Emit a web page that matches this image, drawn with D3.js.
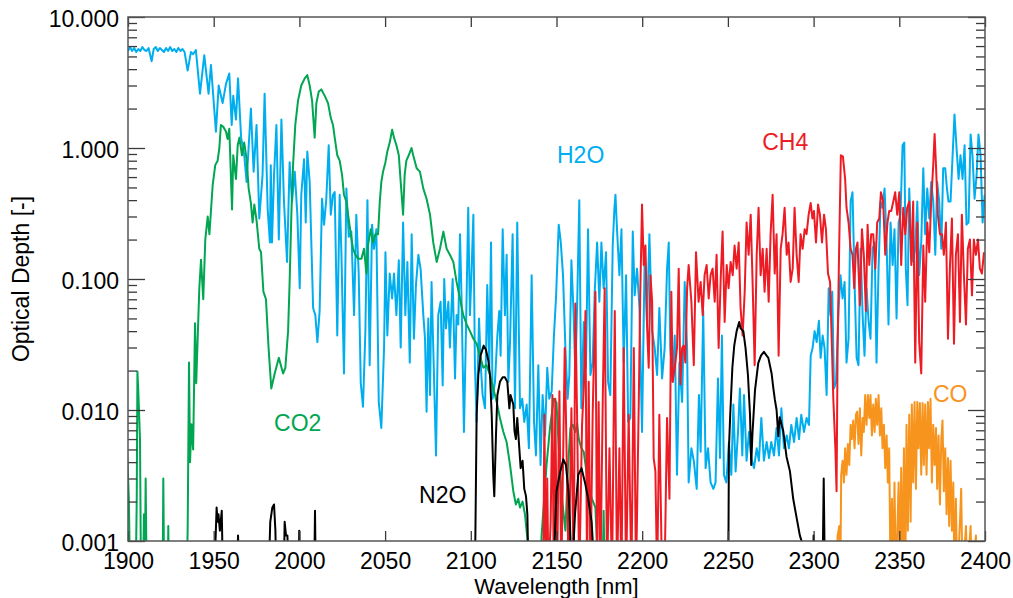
<!DOCTYPE html>
<html><head><meta charset="utf-8">
<script src="https://cdn.jsdelivr.net/npm/d3@7"></script>
<style>
body{margin:0;background:#fff}
svg{display:block}
text{font-family:"Liberation Sans",Arial,Helvetica,sans-serif}
</style>
</head><body>
<svg id="chart" width="1013" height="598"></svg>
<script>
// ---- data: [wavelength nm, optical depth] ----
const h2o = [[1900,5.5],[1901.2,5.9],[1902.4,5.5],[1903.6,5.8],[1904.8,5.4],[1906,5.7],[1907.2,5.5],[1908.4,5.9],[1909.6,5.6],[1910.8,5.5],[1912,5.8],[1913.8,4.6],[1915,5.7],[1916.2,5.9],[1917.4,5.5],[1918.6,5.8],[1919.8,5.6],[1921,5.4],[1922.2,5.8],[1923.4,5.5],[1924.6,5.9],[1925.8,5.5],[1927,5.7],[1928.2,5.4],[1929.4,5.8],[1930.6,5.5],[1931.8,5.7],[1933,5.4],[1934.8,3.9],[1936.7,5.4],[1938,5.2],[1939.6,5.6],[1942,2.6],[1944.5,5.1],[1947,2.6],[1948.4,4.3],[1951.3,1.33],[1952.9,3.0],[1955.2,2.2],[1957.2,3.1],[1959.1,3.7],[1960.5,1.5],[1961.4,2.5],[1963,1.65],[1964.2,3.4],[1966,1.2],[1967.8,0.88],[1969.2,0.55],[1971.7,2.0],[1973.3,0.66],[1975,1.5],[1976.6,0.29],[1978.5,0.62],[1979.7,2.6],[1981.5,0.34],[1982.8,0.19],[1983.3,0.74],[1984,0.19],[1985.2,0.62],[1986.6,1.5],[1988,0.2],[1989.5,1.65],[1991,0.39],[1992.8,0.135],[1994.3,0.78],[1995.7,0.39],[1997.3,0.66],[1998.8,0.31],[2000.2,0.085],[2001.1,0.44],[2002.7,0.82],[2003.7,0.27],[2004.6,0.94],[2006,0.55],[2008,0.06],[2009.3,0.053],[2010.5,0.033],[2011.8,0.057],[2013.2,0.41],[2014.4,0.26],[2015.7,0.41],[2017.1,1.05],[2018.3,0.31],[2019.6,0.44],[2020.6,0.46],[2022.1,0.037],[2023.5,0.44],[2024.5,0.16],[2026,0.019],[2027.4,0.49],[2028.8,0.21],[2030.3,0.23],[2031.9,0.053],[2033.2,0.31],[2034.6,0.11],[2035.8,0.016],[2037.1,0.0106],[2038.5,0.04],[2039.7,0.4],[2041,0.022],[2042.4,0.26],[2043.5,0.17],[2044.9,0.24],[2046.3,0.0115],[2047.8,0.0073],[2049.4,0.03],[2050.2,0.16],[2051.3,0.037],[2052.7,0.11],[2054.1,0.071],[2055.2,0.11],[2056.6,0.053],[2058,0.139],[2059.1,0.03],[2060.5,0.27],[2061.8,0.053],[2063,0.135],[2064.4,0.023],[2065.5,0.22],[2066.8,0.035],[2068,0.09],[2069.4,0.153],[2070.7,0.12],[2072.3,0.053],[2073.3,0.035],[2074.2,0.0097],[2075.2,0.05],[2076.2,0.013],[2077.1,0.095],[2078.1,0.03],[2079.7,0.0045],[2081,0.053],[2082.4,0.067],[2083.6,0.0154],[2084.5,0.1],[2085.5,0.042],[2086.9,0.067],[2087.8,0.03],[2089.4,0.1],[2090.8,0.0174],[2091.7,0.053],[2092.7,0.045],[2093.7,0.22],[2094.6,0.071],[2096,0.0068],[2097.2,0.042],[2098.5,0.35],[2099.5,0.053],[2100.5,0.12],[2101.5,0.31],[2102.4,0.022],[2103.4,0.0081],[2104.8,0.05],[2105.9,0.021],[2106.9,0.013],[2108.3,0.0103],[2109.6,0.09],[2110.8,0.021],[2111.8,0.19],[2112.7,0.0122],[2114.1,0.0164],[2115.5,0.037],[2116.6,0.057],[2117.4,0.026],[2118.6,0.24],[2119.9,0.053],[2120.9,0.153],[2121.9,0.0164],[2122.9,0.033],[2124.4,0.22],[2125.8,0.0103],[2127.1,0.27],[2128.7,0.0103],[2130,0.0122],[2131.2,0.0081],[2132.6,0.011],[2133.9,0.0051],[2135.5,0.107],[2136.9,0.0081],[2138,0.0045],[2139.4,0.022],[2140.7,0.0038],[2141.9,0.013],[2143.3,0.0064],[2144.6,0.021],[2145.8,0.0122],[2147.2,0.0139],[2148.5,0.037],[2149.7,0.071],[2151.3,0.26],[2152.5,0.19],[2153.8,0.107],[2155.2,0.0297],[2156.5,0.0122],[2157.5,0.0185],[2158.7,0.139],[2160,0.053],[2161,0.0185],[2162,0.06],[2163.3,0.4],[2164.5,0.0103],[2165.9,0.047],[2167.2,0.021],[2168.4,0.24],[2169.8,0.0185],[2171.1,0.023],[2172.3,0.08],[2173.7,0.19],[2175,0.067],[2176.2,0.19],[2177.5,0.085],[2178.9,0.16],[2180.1,0.0164],[2181.4,0.013],[2182.8,0.18],[2183.8,0.35],[2184.4,0.44],[2185.3,0.24],[2186.7,0.107],[2187.9,0.24],[2189.2,0.023],[2190.6,0.107],[2191.8,0.0081],[2193.1,0.0087],[2194.5,0.23],[2195.6,0.075],[2197,0.12],[2198.4,0.06],[2199.9,0.0068],[2201.5,0.17],[2202.8,0.047],[2204.2,0.22],[2205.8,0.04],[2207.3,0.0297],[2208.7,0.0185],[2210,0.06],[2211.6,0.0174],[2213.1,0.0297],[2214.5,0.12],[2215.5,0.19],[2216.4,0.0297],[2217.8,0.0164],[2219,0.037],[2220.3,0.0032],[2221.7,0.023],[2223.3,0.0115],[2224.8,0.095],[2226.2,0.0297],[2227.1,0.0028],[2228.7,0.0051],[2230.1,0.0041],[2231.8,0.0025],[2233.1,0.013],[2234.1,0.0048],[2235.6,0.057],[2237,0.0036],[2238.4,0.0051],[2239.9,0.0028],[2241.5,0.0025],[2242.8,0.0028],[2244.2,0.0174],[2245.4,0.0043],[2246.5,0.037],[2247.7,0.0032],[2249.1,0.0028],[2250.6,0.0057],[2252,0.0032],[2253.2,0.011],[2254.5,0.0034],[2255.9,0.0068],[2257,0.0146],[2258.4,0.0045],[2259.4,0.013],[2260.9,0.0041],[2262.3,0.0068],[2263.7,0.0043],[2265.2,0.0036],[2266.8,0.0051],[2268.1,0.0041],[2269.5,0.0087],[2271,0.0041],[2272.6,0.0057],[2274,0.0043],[2275.3,0.0057],[2276.9,0.0045],[2278.4,0.0073],[2279.8,0.0045],[2281.2,0.0103],[2282.7,0.0051],[2284.3,0.0064],[2285.6,0.0051],[2287,0.0077],[2288.6,0.0057],[2290.1,0.0087],[2291.5,0.006],[2292.8,0.0092],[2294.4,0.0068],[2295.9,0.0087],[2297.3,0.0077],[2298.3,0.026],[2299.4,0.0297],[2300.6,0.04],[2301.8,0.033],[2303.1,0.048],[2304.1,0.025],[2305.3,0.037],[2306.4,0.0297],[2307.6,0.013],[2308.8,0.085],[2309.9,0.053],[2310.9,0.08],[2311.9,0.0146],[2313.1,0.0164],[2314.6,0.06],[2315.7,0.107],[2316.9,0.071],[2318.1,0.095],[2319.2,0.023],[2320.4,0.035],[2321.6,0.39],[2322.7,0.46],[2324.1,0.075],[2325.1,0.025],[2326.2,0.022],[2327.4,0.17],[2328.6,0.053],[2329.7,0.026],[2330.9,0.085],[2332.1,0.047],[2333.2,0.035],[2334.4,0.17],[2335.6,0.19],[2336.7,0.023],[2337.9,0.12],[2339.1,0.39],[2340.2,0.35],[2341.4,0.49],[2342.6,0.19],[2343.7,0.045],[2344.9,0.27],[2346.1,0.128],[2347.2,0.24],[2348.4,0.05],[2349.6,0.27],[2350.7,0.31],[2351.9,1.05],[2352.9,1.1],[2353.8,0.12],[2354.8,0.063],[2355.8,0.49],[2357,0.17],[2358.1,0.135],[2359.3,0.17],[2360.5,0.39],[2361.6,0.107],[2362.8,0.19],[2364,0.7],[2365.1,0.22],[2366.3,0.49],[2367.5,0.29],[2368.6,0.55],[2369.8,0.39],[2371,0.153],[2372.1,0.55],[2373.3,0.39],[2374.5,0.17],[2375.6,0.7],[2376.8,0.7],[2377.8,0.49],[2378.7,0.39],[2379.9,0.39],[2381.1,0.88],[2382.2,1.8],[2383.4,1.0],[2384.6,0.58],[2385.7,0.88],[2386.9,0.58],[2388.1,1.05],[2389.2,0.26],[2390.4,0.27],[2391.6,1.27],[2392.7,0.88],[2393.9,0.41],[2395.1,0.62],[2396.2,1.27],[2397.4,0.88],[2398.6,0.27],[2399.8,0.44]];

const co2 = [[1899.5,0.0047],[1900.5,0.0021],[1901.2,0.0005],[1904.5,0.0005],[1905.1,0.0021],[1905.5,0.0197],[1906,0.014],[1907,0.006],[1907.6,0.0005],[1908.8,0.0005],[1909.3,0.0016],[1909.8,0.0005],[1910.3,0.003],[1910.9,0.0005],[1920.2,0.0005],[1920.6,0.003],[1921.1,0.0005],[1923.2,0.0005],[1923.5,0.0013],[1923.9,0.0005],[1934.2,0.0005],[1934.8,0.0012],[1935.6,0.023],[1936.2,0.004],[1937,0.0078],[1938,0.005],[1939.1,0.046],[1939.8,0.016],[1941.6,0.085],[1942.6,0.14],[1943.9,0.07],[1945.1,0.2],[1946.5,0.3],[1947.5,0.22],[1949.4,0.52],[1950.9,0.74],[1952.3,0.8],[1953.3,1.0],[1954.2,1.5],[1955.6,1.45],[1957.2,1.33],[1958.1,1.17],[1959.1,1.4],[1960.7,0.34],[1961.4,0.88],[1963,0.58],[1964,1.05],[1965,1.2],[1966.5,0.88],[1967.8,1.1],[1969.2,0.82],[1970.4,0.49],[1971.7,0.38],[1972.7,0.27],[1973.7,0.37],[1975,0.28],[1976.6,0.17],[1977.6,0.16],[1979,0.08],[1980.5,0.07],[1982,0.03],[1983.6,0.0146],[1985.6,0.019],[1988,0.025],[1990.5,0.019],[1991.8,0.021],[1993.4,0.04],[1994.3,0.095],[1995.3,0.31],[1996.3,0.74],[1997.6,1.5],[1999.2,2.3],[2001.1,3.0],[2003.1,3.4],[2004.6,3.6],[2006,3.0],[2007.4,2.3],[2008.9,1.2],[2009.9,2.2],[2011.3,2.7],[2012.8,2.8],[2014.8,2.5],[2016.7,2.2],[2018.3,1.7],[2019.6,1.5],[2020.6,1.2],[2022.1,0.88],[2023.5,0.8],[2024.9,0.62],[2026,0.44],[2027.4,0.39],[2028.4,0.31],[2030,0.22],[2031.3,0.17],[2032.7,0.153],[2034.2,0.143],[2036.2,0.143],[2037.7,0.17],[2039.1,0.11],[2040,0.18],[2041.6,0.24],[2043,0.19],[2044.3,0.22],[2045.9,0.22],[2046.9,0.39],[2047.8,0.55],[2048.8,0.66],[2050.2,0.78],[2051.3,0.94],[2052.7,1.1],[2054.1,1.38],[2055.2,1.2],[2056.6,1.05],[2058,0.88],[2059.1,0.55],[2060.5,0.31],[2061.4,0.62],[2062.4,0.8],[2063.8,0.88],[2065.4,1.0],[2066.4,0.88],[2068.4,0.7],[2070.3,0.66],[2072.3,0.49],[2074.2,0.41],[2076.2,0.31],[2078.1,0.19],[2080.1,0.135],[2082,0.17],[2084,0.23],[2085.9,0.17],[2087.8,0.153],[2089.8,0.135],[2091.7,0.095],[2093.7,0.071],[2095.6,0.053],[2097.6,0.045],[2099.5,0.04],[2101.5,0.035],[2103.4,0.032],[2105.3,0.026],[2107.3,0.021],[2109.2,0.022],[2111.2,0.0185],[2113.1,0.0146],[2115.1,0.0115],[2117,0.0087],[2119,0.0068],[2120.9,0.0057],[2122.9,0.0038],[2124.8,0.0024],[2126.3,0.0019],[2127.7,0.0021],[2128.7,0.0018],[2130.2,0.002],[2131.6,0.0016],[2133.5,0.0009],[2134.5,0.0005],[2140.5,0.0005],[2141.3,0.0011],[2144.2,0.0038],[2146.2,0.0073],[2148.4,0.0122],[2150,0.0114],[2151.3,0.0051],[2153.2,0.0021],[2155.2,0.0012],[2156.7,0.0036],[2158.1,0.0073],[2159.5,0.0077],[2161,0.0068],[2162,0.0079],[2163,0.006],[2164.5,0.0051],[2165.9,0.0048],[2167.2,0.0036],[2168.8,0.0025],[2170.7,0.0021],[2172.7,0.0018],[2174.5,0.0005],[2176.8,0.0005],[2177.5,0.0017],[2178.2,0.0005]];

const ch4 = [[2142.3,0.0005],[2142.9,0.0092],[2143.9,0.0005],[2144.6,0.003],[2145.3,0.0005],[2146.6,0.0014],[2147.6,0.013],[2148.4,0.0005],[2149.3,0.0122],[2150.3,0.0005],[2151.7,0.0139],[2152.8,0.0005],[2154.8,0.0297],[2156.2,0.0028],[2157.1,0.0005],[2158.7,0.0103],[2160,0.0005],[2161,0.065],[2162,0.0092],[2163.3,0.0005],[2164.9,0.0077],[2165.9,0.0146],[2166.9,0.057],[2167.8,0.0005],[2168.8,0.0164],[2169.8,0.0005],[2171.1,0.0092],[2172.7,0.08],[2173.7,0.0005],[2174.6,0.0115],[2175.6,0.0005],[2177,0.0122],[2178.1,0.085],[2179.5,0.0005],[2180.9,0.0051],[2182.4,0.0005],[2184,0.057],[2185.3,0.0005],[2186.7,0.0051],[2187.9,0.0005],[2189.2,0.0297],[2190.6,0.0005],[2192.1,0.0092],[2193.7,0.0005],[2195.1,0.0297],[2196.4,0.0005],[2198,0.0115],[2198.9,0.08],[2199.9,0.37],[2200.9,0.128],[2201.9,0.18],[2202.8,0.045],[2203.8,0.021],[2204.8,0.107],[2205.8,0.067],[2206.7,0.0043],[2207.7,0.0034],[2208.7,0.0005],[2210,0.0092],[2211.6,0.0005],[2213,0.0005],[2214.5,0.0087],[2215.9,0.0021],[2217,0.08],[2217.8,0.0164],[2219,0.021],[2220.3,0.0297],[2221.3,0.12],[2222.3,0.0157],[2223.3,0.0297],[2224.2,0.031],[2225.2,0.023],[2226.2,0.085],[2227.1,0.128],[2228.7,0.067],[2230.1,0.022],[2231.4,0.16],[2232.9,0.067],[2234.1,0.095],[2235.3,0.053],[2236.4,0.107],[2237.6,0.128],[2238.8,0.071],[2239.9,0.107],[2241.1,0.12],[2242.3,0.067],[2243.4,0.153],[2244.6,0.0297],[2245.8,0.1],[2246.9,0.23],[2248.1,0.047],[2249.3,0.128],[2250.4,0.085],[2251.6,0.135],[2252.8,0.107],[2253.9,0.18],[2255.1,0.12],[2256.3,0.19],[2257.4,0.06],[2258.6,0.037],[2259.8,0.08],[2260.9,0.27],[2262.1,0.153],[2263.3,0.31],[2264.4,0.095],[2265.6,0.022],[2266.8,0.153],[2267.9,0.35],[2269.1,0.107],[2270.3,0.17],[2271.4,0.08],[2272.6,0.17],[2273.8,0.067],[2274.9,0.22],[2276.1,0.44],[2277.3,0.11],[2278.4,0.22],[2279.6,0.026],[2280.8,0.17],[2281.9,0.22],[2283.1,0.35],[2284.3,0.153],[2285.4,0.19],[2286.6,0.095],[2287.8,0.12],[2288.9,0.35],[2290.1,0.153],[2291.3,0.095],[2292.4,0.22],[2293.6,0.17],[2294.8,0.24],[2295.9,0.22],[2297.1,0.31],[2298.3,0.38],[2299.3,0.29],[2300.2,0.33],[2301.4,0.19],[2302.6,0.37],[2303.7,0.31],[2304.9,0.19],[2306.1,0.31],[2307.2,0.24],[2308.4,0.11],[2309.6,0.095],[2310.7,0.0297],[2311.5,0.0122],[2312.7,0.0051],[2313.4,0.0024],[2314,0.0297],[2314.9,0.17],[2315.9,0.88],[2317.1,0.86],[2318.4,0.58],[2319.2,0.35],[2320.4,0.27],[2321.6,0.17],[2322.7,0.153],[2323.7,0.085],[2324.7,0.17],[2325.6,0.19],[2327,0.063],[2328.2,0.24],[2329.3,0.153],[2330.5,0.057],[2331.5,0.26],[2332.5,0.128],[2333.6,0.22],[2334.8,0.22],[2336,0.12],[2337.1,0.27],[2338.3,0.29],[2339.3,0.46],[2340.6,0.39],[2341.8,0.153],[2343.1,0.27],[2344.1,0.33],[2345.3,0.33],[2346.5,0.39],[2347.6,0.46],[2348.8,0.31],[2350,0.46],[2351.1,0.128],[2352.3,0.35],[2353.5,0.22],[2354.6,0.35],[2355.8,0.39],[2357,0.128],[2358.1,0.39],[2359.3,0.023],[2360.5,0.27],[2361.6,0.033],[2362.8,0.019],[2364,0.18],[2365.1,0.067],[2366.3,0.27],[2367.5,0.16],[2368.6,0.39],[2369.8,0.74],[2370.6,1.28],[2371.4,0.74],[2372.5,0.31],[2373.7,0.22],[2374.9,0.22],[2376,0.153],[2377.2,0.27],[2378.4,0.035],[2379.5,0.12],[2380.7,0.29],[2381.9,0.032],[2383,0.153],[2384.2,0.22],[2385.4,0.047],[2386.5,0.31],[2387.7,0.107],[2388.9,0.045],[2390,0.17],[2391.2,0.2],[2392.4,0.075],[2393.5,0.2],[2394.7,0.153],[2395.9,0.2],[2397,0.12],[2398.2,0.11],[2399.4,0.16]];

const n2o = [[1950.3,0.0005],[1951.7,0.0018],[1952.3,0.0014],[1952.8,0.0016],[1953.6,0.0012],[1954.7,0.0017],[1955.4,0.0005],[1963.5,0.0005],[1964.2,0.0011],[1965,0.0005],[1982,0.0005],[1983,0.0014],[1984.2,0.0018],[1985.2,0.0019],[1986,0.0012],[1986.6,0.0005],[1990.8,0.0005],[1991.4,0.0014],[1992.2,0.0011],[1993,0.0011],[1994,0.0005],[1999.6,0.0005],[1999.9,0.0012],[2000.2,0.0005],[2008.6,0.0005],[2009.1,0.0017],[2009.6,0.0005],[2102.4,0.0005],[2103.4,0.0092],[2104.4,0.0185],[2105.7,0.026],[2107.5,0.031],[2108.8,0.029],[2110.2,0.024],[2111.2,0.0185],[2112.2,0.0092],[2113.1,0.0032],[2113.7,0.0022],[2114.7,0.0065],[2115.5,0.013],[2117,0.0164],[2118.6,0.0178],[2119.9,0.0178],[2121.3,0.0164],[2122.5,0.0103],[2123.2,0.013],[2124.8,0.011],[2125.5,0.0069],[2126.3,0.006],[2127.1,0.0087],[2128.3,0.0051],[2129.1,0.0036],[2130.2,0.0041],[2131.2,0.0025],[2132.2,0.0022],[2133,0.0016],[2133.7,0.0005],[2148.1,0.0005],[2150,0.0024],[2152,0.0033],[2154,0.0042],[2155.5,0.0038],[2157,0.0024],[2157.9,0.0013],[2158.9,0.0005],[2160.8,0.0016],[2162.7,0.0032],[2164.6,0.0036],[2166.6,0.0028],[2168.5,0.0021],[2170.5,0.0014],[2172.4,0.0005],[2250.2,0.0005],[2250.6,0.0051],[2251.4,0.0095],[2252.6,0.021],[2253.7,0.031],[2255.1,0.04],[2256.6,0.047],[2257.4,0.042],[2259,0.04],[2260.3,0.0297],[2261.7,0.0185],[2262.9,0.0092],[2263.6,0.0038],[2264.3,0.0065],[2265.8,0.0141],[2267.7,0.0228],[2269.3,0.026],[2271,0.0278],[2272.6,0.026],[2273.6,0.025],[2275.5,0.019],[2276.5,0.0147],[2277.4,0.012],[2278.4,0.01],[2279.4,0.0063],[2280.2,0.0088],[2282.3,0.0069],[2284.2,0.0044],[2286.2,0.0034],[2288.1,0.0021],[2290.1,0.0015],[2292,0.0011],[2293,0.001],[2293.8,0.0005],[2299.6,0.0005],[2300,0.0011],[2300.4,0.0005],[2305.2,0.0005],[2305.9,0.003],[2306.6,0.0005]];

const co = [[2313,0.0005],[2314,0.0011],[2315,0.0013],[2315.6,0.0005],[2316.1,0.0032],[2316.9,0.0041],[2317.7,0.0028],[2318.4,0.0051],[2319.2,0.0032],[2320,0.0055],[2320.8,0.0038],[2321.6,0.0077],[2322.3,0.006],[2323.1,0.0083],[2323.9,0.0051],[2324.7,0.0092],[2325.4,0.0097],[2326.2,0.0055],[2327,0.0103],[2327.8,0.0045],[2328.6,0.0087],[2329.3,0.0068],[2330.1,0.013],[2330.9,0.0077],[2331.7,0.013],[2332.5,0.0087],[2333.2,0.013],[2334,0.0064],[2334.8,0.011],[2335.6,0.0068],[2336.3,0.0122],[2337.1,0.0077],[2337.9,0.013],[2338.7,0.0064],[2339.5,0.0103],[2340.2,0.0051],[2341,0.0077],[2341.8,0.0036],[2342.6,0.0064],[2343.3,0.0028],[2344.1,0.0051],[2344.9,0.0005],[2345.7,0.0021],[2346.4,0.0005],[2347.2,0.0028],[2348,0.0005],[2348.8,0.0011],[2349.6,0.0028],[2350.3,0.0005],[2351.1,0.0036],[2351.9,0.0005],[2352.7,0.0051],[2353.5,0.0005],[2354.2,0.0077],[2355,0.0012],[2355.8,0.0092],[2356.6,0.0014],[2357.3,0.011],[2358.1,0.0028],[2358.9,0.0115],[2359.7,0.0025],[2360.5,0.0115],[2361.2,0.0051],[2362,0.0113],[2362.8,0.0032],[2363.6,0.0113],[2364.3,0.0038],[2365.1,0.011],[2365.9,0.0032],[2366.7,0.0115],[2367.4,0.0051],[2368.2,0.0122],[2369,0.0028],[2369.8,0.0077],[2370.6,0.0038],[2371.4,0.0073],[2372.1,0.0025],[2372.9,0.0064],[2373.7,0.0019],[2374.5,0.006],[2375.2,0.0083],[2376,0.0024],[2376.8,0.0051],[2377.6,0.0016],[2378.4,0.0043],[2379.1,0.0013],[2379.9,0.0041],[2380.7,0.0012],[2381.5,0.0028],[2382.2,0.0005],[2383,0.0021],[2383.8,0.0005],[2385.4,0.0014],[2386.1,0.0025],[2386.9,0.0005],[2388.9,0.0013],[2389.6,0.0005],[2391.6,0.0013],[2392.3,0.0005],[2394.7,0.0011],[2395.3,0.0005]];

const xTickValues = [1900,1950,2000,2050,2100,2150,2200,2250,2300,2350,2400];
const yTickValues = [0.001,0.01,0.1,1,10];
const yTickLabels = ["0.001","0.010","0.100","1.000","10.000"];
const seriesNames = ["H2O","CO2","CH4","N2O","CO"];
const xTitle = "Wavelength [nm]";
const yTitle = "Optical Depth [-]";

// ---- layout / style ----
const colors = {H2O:"#00aeef", CO2:"#00a651", CH4:"#ed1c24", N2O:"#000000", CO:"#f7941d"};
const seriesData = {H2O:h2o, CO2:co2, CH4:ch4, N2O:n2o, CO:co};
const labelPos = {H2O:[2150.3,0.77], CH4:[2270,0.97], CO2:[1985.2,0.0069], N2O:[2069.8,0.00195], CO:[2369.6,0.0116]};
const L=128, R=985, T=17, B=541, FS=23;

const svg = d3.select("#chart");
const x = d3.scaleLinear().domain([1900,2400]).range([L,R]);
const y = d3.scaleLog().domain([0.001,10]).range([B,T]);

svg.append("defs").append("clipPath").attr("id","plotclip")
  .append("rect").attr("x",L).attr("y",T).attr("width",R-L).attr("height",B-T);

const line = d3.line().x(d=>x(d[0])).y(d=>y(d[1]));
const gLines = svg.append("g").attr("clip-path","url(#plotclip)");
["H2O","CO2","CH4","N2O","CO"].forEach(k=>{
  gLines.append("path").datum(seriesData[k])
    .attr("d",line).attr("fill","none").attr("stroke",colors[k])
    .attr("stroke-width",2).attr("stroke-linejoin","round");
});

// minor ticks for log axis
const minor = [];
[0.001,0.01,0.1,1].forEach(d=>{for(let m=2;m<=9;m++) minor.push(d*m);});

const axisColor = "#3a3a3a";
function styleAxis(g){
  g.select(".domain").remove();
  g.selectAll(".tick line").attr("stroke",axisColor).attr("stroke-width",1.3);
  g.selectAll("text").attr("font-size",FS).attr("fill","#000").attr("font-family","Liberation Sans, Arial, sans-serif");
}
svg.append("g").attr("transform",`translate(0,${B})`)
  .call(d3.axisBottom(x).tickValues(xTickValues).tickFormat(d3.format("d")).tickSizeInner(-10).tickSizeOuter(0).tickPadding(12))
  .call(styleAxis);
svg.append("g").attr("transform",`translate(0,${T})`)
  .call(d3.axisTop(x).tickValues(xTickValues).tickFormat("").tickSizeInner(-10).tickSizeOuter(0))
  .call(styleAxis);
const gl = svg.append("g").attr("transform",`translate(${L},0)`)
  .call(d3.axisLeft(y).tickValues(yTickValues).tickFormat((d,i)=>yTickLabels[i]).tickSizeInner(-17).tickSizeOuter(0).tickPadding(9))
  .call(styleAxis);
gl.selectAll("text").attr("dy","0.4em");
svg.append("g").attr("transform",`translate(${L},0)`)
  .call(d3.axisLeft(y).tickValues(minor).tickFormat("").tickSizeInner(-9).tickSizeOuter(0)).call(styleAxis);
svg.append("g").attr("transform",`translate(${R},0)`)
  .call(d3.axisRight(y).tickValues(yTickValues).tickFormat("").tickSizeInner(-17).tickSizeOuter(0)).call(styleAxis);
svg.append("g").attr("transform",`translate(${R},0)`)
  .call(d3.axisRight(y).tickValues(minor).tickFormat("").tickSizeInner(-9).tickSizeOuter(0)).call(styleAxis);

// frame
svg.append("rect").attr("x",L).attr("y",T).attr("width",R-L).attr("height",B-T)
  .attr("fill","none").attr("stroke","#555").attr("stroke-width",1.5);

// titles
svg.append("text").attr("x",(L+R)/2).attr("y",594).attr("text-anchor","middle")
  .attr("font-size",22).text(xTitle);
svg.append("text").attr("transform",`translate(29,${(T+B)/2}) rotate(-90)`).attr("text-anchor","middle")
  .attr("font-size",FS).text(yTitle);

// series labels
seriesNames.forEach(k=>{
  svg.append("text").attr("x",x(labelPos[k][0])).attr("y",y(labelPos[k][1]))
    .attr("font-size",FS).attr("fill",colors[k]).text(k);
});
</script>
</body></html>
